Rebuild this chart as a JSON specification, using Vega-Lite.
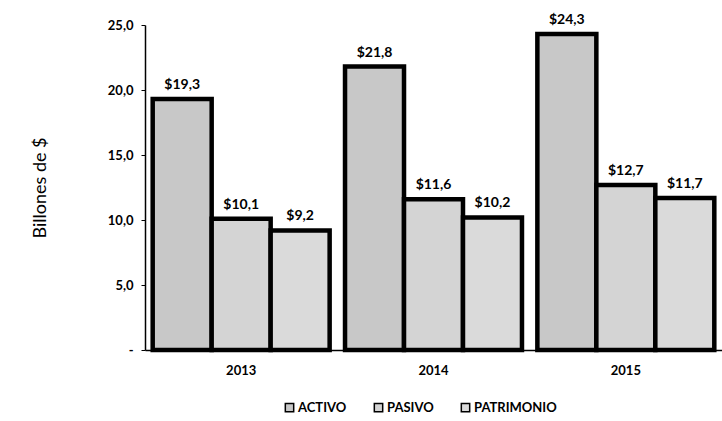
{
  "$schema": "https://vega.github.io/schema/vega-lite/v6.json",
  "width": 577,
  "height": 325,
  "autosize": {"type": "none"},
  "padding": {"left": 145, "top": 25, "right": 0, "bottom": 71},
  "background": "white",
  "config": {
    "locale": {"number": {"decimal": ",", "thousands": ".", "grouping": [3], "currency": ["$", ""]}},
    "view": {"stroke": null},
    "font": "Lato"
  },
  "data": {
    "values": [
      {"anio": "2013", "serie": "ACTIVO", "valor": 19.3},
      {"anio": "2013", "serie": "PASIVO", "valor": 10.1},
      {"anio": "2013", "serie": "PATRIMONIO", "valor": 9.2},
      {"anio": "2014", "serie": "ACTIVO", "valor": 21.8},
      {"anio": "2014", "serie": "PASIVO", "valor": 11.6},
      {"anio": "2014", "serie": "PATRIMONIO", "valor": 10.2},
      {"anio": "2015", "serie": "ACTIVO", "valor": 24.3},
      {"anio": "2015", "serie": "PASIVO", "valor": 12.7},
      {"anio": "2015", "serie": "PATRIMONIO", "valor": 11.7}
    ]
  },
  "encoding": {
    "x": {
      "field": "anio", "type": "nominal",
      "scale": {"paddingInner": 0.08, "paddingOuter": 0.04},
      "axis": {
        "title": null, "labelAngle": 0, "labelFont": "Lato", "labelFontWeight": "bold",
        "labelFontSize": 13, "labelColor": "black", "labelPadding": 14,
        "domainColor": "black", "domainWidth": 1.5, "ticks": false
      }
    },
    "xOffset": {"field": "serie", "type": "nominal", "scale": {"paddingInner": 0}},
    "y": {
      "field": "valor", "type": "quantitative",
      "scale": {"domain": [0, 25], "nice": false},
      "axis": {
        "title": "Billones de $", "titleFont": "Lato", "titleFontWeight": "normal",
        "titleFontSize": 18, "titleColor": "black", "titlePadding": 58,
        "values": [0, 5, 10, 15, 20, 25],
        "labelExpr": "datum.value == 0 ? '-' : replace(format(datum.value, '.1f'), '.', ',')",
        "labelFont": "Lato", "labelFontWeight": "bold", "labelFontSize": 13, "labelColor": "black",
        "labelPadding": 8, "grid": false, "domainColor": "black", "domainWidth": 1.5,
        "tickColor": "black", "tickSize": 4
      }
    }
  },
  "layer": [
    {
      "mark": {"type": "bar", "stroke": "black", "strokeWidth": 4.5},
      "encoding": {
        "color": {
          "field": "serie", "type": "nominal",
          "scale": {"domain": ["ACTIVO", "PASIVO", "PATRIMONIO"], "range": ["#c8c8c8", "#d4d4d4", "#dadada"]},
          "legend": {
            "title": null, "orient": "none", "direction": "horizontal",
            "legendX": 138, "legendY": 376, "symbolType": "square", "symbolSize": 70,
            "symbolStrokeColor": "black", "symbolStrokeWidth": 1.5,
            "labelFont": "Lato", "labelFontWeight": "bold", "labelFontSize": 13, "labelColor": "black",
            "columnPadding": 24, "labelOffset": 2
          }
        }
      }
    },
    {
      "mark": {"type": "text", "baseline": "bottom", "dy": -7, "font": "Lato", "fontWeight": "bold", "fontSize": 14, "color": "black"},
      "encoding": {
        "text": {"field": "valor", "type": "quantitative", "format": "$.1f"}
      }
    }
  ]
}
